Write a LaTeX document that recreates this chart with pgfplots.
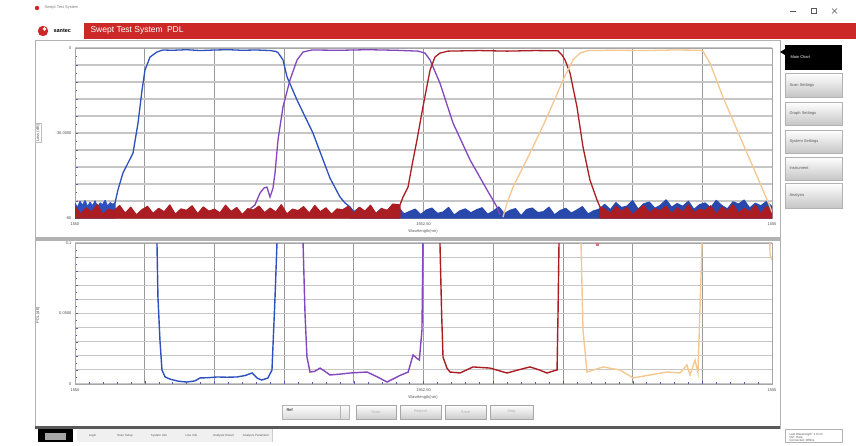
\documentclass[border=0pt]{standalone}
\usepackage{pgfplots}
\pgfplotsset{compat=1.18}
\usepackage{fontspec}
\setmainfont{Liberation Sans}

\definecolor{stred}{RGB}{205,40,40}
\definecolor{cblue}{RGB}{45,80,190}
\definecolor{cpurple}{RGB}{130,70,190}
\definecolor{cred}{RGB}{170,30,35}
\definecolor{corange}{RGB}{245,200,145}

\newcommand{\tinyf}{\fontsize{4}{4.5}\selectfont}

\pgfplotsset{
  panel/.style={
    scale only axis, width=697pt,
    xmin=1550, xmax=1555, clip=true,
    xtick={1550,1550.5,1551,1551.5,1552,1552.5,1553,1553.5,1554,1554.5,1555},
    xticklabels={1550,,,,,1552.50,,,,,1555},
    minor x tick num=4,
    grid=major,
    x grid style={gray!80, line width=0.8pt},
    y grid style={gray!45, line width=1.1pt},
    axis line style={gray!70, line width=0.8pt},
    tick align=inside, tick pos=left,
    major tick length=3pt, minor tick length=2pt,
    tick style={gray!70!blue},
    tick label style={font=\tinyf, text=gray!60!black},
    xticklabel style={yshift=-1pt},
    axis on top=false,
  },
  noise/.style={line width=1.2pt, line join=round},
}

\begin{document}
\begin{tikzpicture}[x=1pt,y=-1pt]
\fill[white] (0,0) rectangle (856,442);

% window header
\fill[stred] (37,8) circle (2.2);
\node[anchor=west,font=\tinyf,text=gray] at (41,8) {Swept Test System};
\draw[gray!70!black, line width=0.5pt] (790,11) -- (796,11);
\draw[gray!70!black, line width=0.5pt] (811,8.5) rectangle (816,13.5);
\draw[gray!70!black, line width=0.5pt] (832,8.5) -- (837,13.5) (832,13.5) -- (837,8.5);
\fill[stred] (43,31) circle (5.2);
\fill[white] (44.5,29) circle (1.8);
\node[anchor=west,font=\bfseries\fontsize{5.5}{6}\selectfont] at (50,31) {santec};
\fill[stred] (84,23) rectangle (856,38.5);
\node[anchor=west,text=white,font=\fontsize{8.5}{9}\selectfont] at (87,30.8) {Swept Test System\enspace PDL};

% panels
\draw[gray!60, line width=0.8pt] (35,40) rectangle (780,428);
\fill[gray!60] (35,237) rectangle (780,241);
\fill[gray!70!black] (35,425.5) rectangle (780,428.5);
\node[draw=gray!50, rotate=90, font=\tinyf, text=gray!70!black, inner sep=1pt] at (38,133) {Loss (dB)};
\node[rotate=90, font=\tinyf, text=gray!70!black, inner sep=1pt] at (38,315) {PDL (dB)};
\node[font=\tinyf, text=gray!70!black] at (423,231) {Wavelength(nm)};
\node[font=\tinyf, text=gray!70!black] at (423,397) {Wavelength(nm)};

% side buttons
\foreach \ya/\yb/\t in {73/97/Scan Settings, 102/125/Graph Settings, 130/153/System Settings, 157/180/Instrument, 183/208/Analysis}{
  \shade[top color=white, bottom color=gray!45, draw=gray!60] (785,\ya) rectangle (842,\yb);
  \node[anchor=west, font=\tinyf, text=gray!70!black] at (786,{(\ya+\yb)/2}) {\t};
}
\fill[black] (785,45) rectangle (842,70);
\node[anchor=west, font=\tinyf, text=white] at (787,57.5) {Main Chart};
\fill[black] (780,52) -- (785,49) -- (785,55) -- cycle;

% chart buttons
\shade[top color=white, bottom color=gray!30, draw=gray!60] (282,405) rectangle (349,419);
\node[anchor=west, font=\tinyf] at (283,410) {Ref};
\draw[gray!60] (340,405) -- (340,419);
\foreach \xa/\xb/\t in {356/396/Scan, 400/441/Repeat, 445/486/Save, 490/533/Stop}{
  \shade[top color=white, bottom color=gray!40, draw=gray!70] (\xa,405) rectangle (\xb,419);
  \node[font=\tinyf, text=gray!60] at ({(\xa+\xb)/2},412) {\t};
}

% bottom toolbar
\fill[black] (38,429) rectangle (73,442);
\fill[gray!70] (45,433) rectangle (66,440);
\foreach \xa/\xb/\t in {77/108/Login, 108/142/Scan Setup, 142/176/System Info, 176/207/Line Info, 207/240/Analysis Result, 240/272/Analysis Parameter}{
  \fill[gray!12] (\xa,429) rectangle (\xb,442);
  \draw[gray!40] (\xb,429) -- (\xb,442);
  \node[font=\fontsize{3}{3.3}\selectfont, text=gray!70!black, align=center, text width={\xb-\xa-2}] at ({(\xa+\xb)/2},435.5) {\t};
}
\draw[gray!60] (785,429) rectangle (842,442);
\node[anchor=north west, font=\fontsize{3}{3.3}\selectfont, text=gray!70!black, align=left] at (786,429.5) {Last Wavelength: 1.0 nm\\Ref: Data\\Connected: Offline};

% ===== top chart: loss =====
\begin{axis}[panel, at={(75pt,-218pt)}, anchor=south west, height=170pt,
  ymin=-60, ymax=0,
  ytick={-60,-54,-48,-42,-36,-30,-24,-18,-12,-6,0},
  yticklabels={-60,,,,,-30.0000,,,,,0},
  minor y tick num=1]
% blue
\addplot[cblue, noise, fill=cblue] coordinates {
(1550.000,-54.8)(1550.018,-56.4)(1550.036,-54.2)(1550.054,-55.6)(1550.072,-53.9)(1550.090,-56.1)(1550.108,-54.5)
(1550.126,-55.8)(1550.144,-54.0)(1550.162,-56.3)(1550.180,-54.7)(1550.198,-55.4)(1550.216,-53.8)(1550.234,-55.9)
(1550.252,-54.6)(1550.270,-55.2)(1550.287,-54.7)(1550.287,-60)(1550.000,-60)} -- cycle;
\addplot[cblue, line width=1.3pt] coordinates {
(1550.287,-54.7)(1550.308,-50.1)(1550.344,-44.1)(1550.380,-40.6)(1550.416,-37.1)(1550.452,-26.5)(1550.481,-14.8)(1550.502,-7.8)
(1550.538,-3.2)(1550.588,-1.4)(1550.631,-0.7)(1550.700,-0.8)(1550.800,-0.6)(1550.900,-0.9)(1551.000,-0.7)(1551.100,-0.6)
(1551.200,-0.8)(1551.300,-0.7)(1551.400,-0.9)(1551.440,-1.2)(1551.456,-1.6)(1551.492,-4.2)(1551.521,-10.2)(1551.593,-18.4)
(1551.707,-30.0)(1551.772,-38.5)(1551.829,-45.9)(1551.901,-52.6)(1551.937,-54.7)(1551.973,-56.1)};
\addplot[cblue!90!black, noise, fill=cblue!90!black] table {
x y
1551.973 -56.1
1552.00 -57.8
1552.04 -56.4
1552.08 -58.9
1552.12 -57.0
1552.16 -58.3
1552.20 -56.6
1552.24 -59.1
1552.28 -57.4
1552.32 -56.2
1552.36 -58.6
1552.40 -57.7
1552.44 -56.9
1552.48 -58.8
1552.52 -57.2
1552.56 -56.5
1552.60 -58.4
1552.64 -57.9
1552.68 -56.3
1552.72 -59.0
1552.76 -57.5
1552.80 -56.8
1552.84 -58.2
1552.88 -57.1
1552.92 -56.4
1552.96 -58.7
1553.00 -57.6
1553.04 -56.1
1553.08 -58.5
1553.12 -57.3
1553.16 -56.7
1553.20 -59.2
1553.24 -57.0
1553.28 -56.5
1553.32 -58.1
1553.36 -57.8
1553.40 -56.2
1553.44 -58.9
1553.48 -57.4
1553.52 -56.6
1553.56 -58.3
1553.60 -57.2
1553.64 -56.0
1553.68 -58.6
1553.72 -57.5
1553.76 -56.9
1553.80 -55.2
1553.84 -57.1
1553.88 -54.6
1553.92 -56.3
1553.96 -55.8
1554.00 -53.9
1554.04 -56.9
1554.08 -55.0
1554.12 -54.4
1554.16 -56.6
1554.20 -55.5
1554.24 -53.6
1554.28 -56.2
1554.32 -54.9
1554.36 -55.9
1554.40 -54.1
1554.44 -57.0
1554.48 -55.3
1554.52 -54.7
1554.56 -56.4
1554.60 -53.8
1554.64 -55.6
1554.68 -56.8
1554.72 -54.3
1554.76 -55.1
1554.80 -53.7
1554.84 -56.5
1554.88 -54.8
1554.92 -55.7
1554.96 -54.2
1555.00 -56.0
1555.00 -60
1551.973 -60
} -- cycle;
% purple
\addplot[cpurple, line width=1.3pt] coordinates {
(1551.255,-56.8)(1551.291,-55.4)(1551.327,-51.2)(1551.356,-49.4)(1551.377,-49.1)(1551.399,-52.6)(1551.420,-49.5)
(1551.435,-44.1)(1551.456,-32.5)(1551.492,-20.8)(1551.542,-11.3)(1551.593,-4.2)(1551.636,-1.4)(1551.700,-0.7)
(1551.900,-0.8)(1552.100,-0.6)(1552.300,-0.8)(1552.461,-1.1)(1552.511,-1.8)(1552.547,-4.2)(1552.618,-12.4)
(1552.712,-26.5)(1552.834,-39.5)(1552.956,-50.1)(1553.027,-56.1)(1553.049,-58.9)};
% red
\addplot[cred, noise, fill=cred] table {
x y
1550.00 -55.8
1550.04 -58.6
1550.08 -56.4
1550.12 -57.9
1550.16 -55.2
1550.20 -58.8
1550.24 -56.9
1550.28 -57.4
1550.32 -55.6
1550.36 -58.3
1550.40 -56.2
1550.44 -58.9
1550.48 -57.1
1550.52 -55.9
1550.56 -58.4
1550.60 -56.6
1550.64 -57.8
1550.68 -55.4
1550.72 -58.7
1550.76 -56.8
1550.80 -57.3
1550.84 -55.7
1550.88 -58.5
1550.92 -56.1
1550.96 -57.6
1551.00 -56.9
1551.04 -58.2
1551.08 -55.5
1551.12 -57.7
1551.16 -56.3
1551.20 -58.8
1551.24 -56.7
1551.28 -57.2
1551.32 -55.8
1551.36 -58.1
1551.40 -56.5
1551.44 -57.9
1551.48 -55.3
1551.52 -58.6
1551.56 -56.9
1551.60 -57.4
1551.64 -56.0
1551.68 -58.3
1551.72 -55.6
1551.76 -57.8
1551.80 -56.4
1551.84 -58.7
1551.88 -56.8
1551.92 -57.1
1551.96 -55.9
1552.00 -58.4
1552.04 -56.2
1552.08 -57.6
1552.12 -55.5
1552.16 -58.5
1552.20 -56.7
1552.24 -57.3
1552.28 -55.1
1552.331 -55.4
1552.331 -60
1550.00 -60
} -- cycle;
\addplot[cred, line width=1.3pt] coordinates {
(1552.331,-55.4)(1552.353,-52.6)(1552.389,-49.1)(1552.418,-41.3)(1552.453,-32.5)(1552.496,-20.8)(1552.547,-7.8)
(1552.582,-3.2)(1552.618,-1.8)(1552.676,-1.1)(1552.900,-0.9)(1553.100,-1.1)(1553.300,-0.9)(1553.465,-1.0)
(1553.494,-2.5)(1553.515,-4.2)(1553.551,-8.8)(1553.601,-20.8)(1553.644,-34.9)(1553.694,-46.6)(1553.745,-53.7)(1553.766,-56.1)};
\addplot[cred, noise, fill=cred] table {
x y
1553.766 -56.1
1553.80 -56.8
1553.84 -58.4
1553.88 -55.9
1553.92 -57.7
1553.96 -56.3
1554.00 -58.9
1554.04 -57.0
1554.08 -55.6
1554.12 -58.2
1554.16 -56.7
1554.20 -57.5
1554.24 -55.8
1554.28 -58.6
1554.32 -56.4
1554.36 -57.9
1554.40 -55.4
1554.44 -58.1
1554.48 -56.9
1554.52 -57.3
1554.56 -55.7
1554.60 -58.7
1554.64 -56.2
1554.68 -57.6
1554.72 -55.3
1554.76 -58.3
1554.80 -56.6
1554.84 -57.8
1554.88 -55.5
1554.92 -58.5
1554.96 -56.0
1555.00 -57.2
1555.00 -60
1553.766 -60
} -- cycle;
% orange
\addplot[corange, line width=1.3pt] coordinates {
(1553.070,-59.7)(1553.099,-54.7)(1553.142,-49.1)(1553.264,-37.1)(1553.386,-24.4)(1553.501,-11.3)(1553.572,-4.2)
(1553.623,-1.8)(1553.680,-0.9)(1553.900,-0.8)(1554.100,-0.9)(1554.300,-0.7)(1554.490,-0.8)(1554.505,-1.2)
(1554.555,-5.3)(1554.648,-17.3)(1554.749,-28.9)(1554.842,-39.5)(1554.935,-50.1)(1554.986,-56.1)(1555.000,-58.0)};
\end{axis}

% ===== bottom chart: PDL =====
\begin{axis}[panel, at={(75pt,-384pt)}, anchor=south west, height=141pt,
  ymin=0, ymax=0.1,
  ytick={0,0.01,0.02,0.03,0.04,0.05,0.06,0.07,0.08,0.09,0.1},
  yticklabels={0,,,,,0.0500,,,,,0.1},
  minor y tick num=1,
  y tick label style={/pgf/number format/fixed}]
\addplot[cblue, line width=1.4pt] coordinates {
(1550.581,0.12)(1550.588,0.1)(1550.595,0.0617)(1550.610,0.030)(1550.624,0.0099)(1550.646,0.0050)(1550.681,0.0035)
(1550.740,0.0020)(1550.803,0.0014)(1550.860,0.0022)(1550.897,0.0043)(1550.960,0.0045)(1551.019,0.0050)(1551.090,0.0048)
(1551.162,0.0050)(1551.220,0.0060)(1551.270,0.0078)(1551.310,0.0040)(1551.340,0.0028)(1551.384,0.0043)(1551.413,0.0099)
(1551.435,0.0617)(1551.449,0.1)(1551.455,0.12)};
\addplot[cpurple, line width=1.4pt] coordinates {
(1551.630,0.12)(1551.636,0.1)(1551.650,0.050)(1551.664,0.0191)(1551.686,0.0085)(1551.720,0.0090)(1551.758,0.0113)
(1551.800,0.0085)(1551.829,0.0064)(1551.900,0.0070)(1551.973,0.0078)(1552.040,0.0082)(1552.095,0.0085)(1552.170,0.0050)
(1552.238,0.0014)(1552.330,0.0060)(1552.390,0.0085)(1552.425,0.0206)(1552.450,0.0184)(1552.470,0.0170)(1552.489,0.0383)
(1552.496,0.1)(1552.500,0.12)};
\addplot[cred, line width=1.4pt] coordinates {
(1552.612,0.12)(1552.618,0.1)(1552.630,0.050)(1552.640,0.0191)(1552.668,0.0113)(1552.690,0.0085)(1552.762,0.0078)
(1552.855,0.0121)(1552.977,0.0113)(1553.099,0.0078)(1553.180,0.0100)(1553.264,0.0121)(1553.330,0.0100)(1553.386,0.0078)
(1553.440,0.0095)(1553.458,0.0099)(1553.465,0.050)(1553.472,0.1)(1553.475,0.12)};
\addplot[corange, line width=1.4pt] coordinates {
(1553.625,0.12)(1553.630,0.1)(1553.644,0.0383)(1553.673,0.0085)(1553.788,0.0121)(1553.910,0.0099)(1554.003,0.0043)
(1554.125,0.0064)(1554.247,0.0085)(1554.340,0.0078)(1554.390,0.0135)(1554.412,0.0064)(1554.448,0.0170)(1554.469,0.0078)
(1554.498,0.1)(1554.500,0.12)};
\addplot[corange, line width=1.4pt] coordinates {(1554.980,0.12)(1554.986,0.092)(1555.000,0.088)};
\addplot[only marks, mark=square*, mark size=1pt, cred!60] coordinates {(1553.745,0.099)};
\end{axis}
\end{tikzpicture}
\end{document}
